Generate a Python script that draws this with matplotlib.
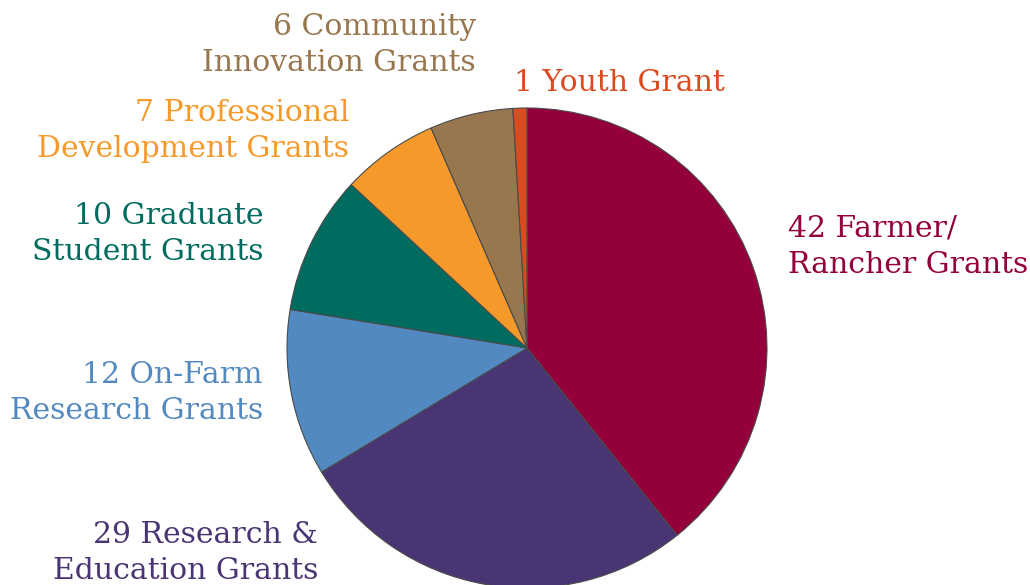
import matplotlib
matplotlib.use('Agg')
import matplotlib.pyplot as plt

W, H = 1030, 585

# grant counts, clockwise from the top
categories = ['Farmer/\nRancher Grants', 'Research &\nEducation Grants',
              'On-Farm\nResearch Grants', 'Graduate\nStudent Grants',
              'Professional\nDevelopment Grants', 'Community\nInnovation Grants',
              'Youth Grant']
counts = [42, 29, 12, 10, 7, 6, 1]
colors = ['#93003B', '#4A3574', '#5289C1', '#006B5F',
          '#F6992B', '#98774F', '#DA4B1F']

# label anchors in pixels (x, y of block centre, alignment)
label_pos = [(788, 247, 'left'), (318, 553, 'right'), (263, 393, 'right'),
             (263, 234, 'right'), (349, 131, 'right'), (476, 45, 'right'),
             (514, 83, 'left')]

fig = plt.figure(figsize=(W / 100, H / 100), dpi=100)
cx, cy, r = 527, 348, 240
ax = fig.add_axes([(cx - r) / W, (H - cy - r) / H, 2 * r / W, 2 * r / H])
ax.pie(counts, colors=colors, startangle=90, counterclock=False,
       wedgeprops=dict(edgecolor='#4a4a4a', linewidth=0.8))
ax.set_xlim(-1, 1)
ax.set_ylim(-1, 1)
ax.set_aspect('equal')
ax.axis('off')
for w in ax.patches:
    w.set_clip_on(False)

for n, cat, col, (x, y, ha) in zip(counts, categories, colors, label_pos):
    fig.text(x / W, 1 - y / H, f'{n} {cat}', color=col, ha=ha, va='center',
             multialignment=ha, fontsize=21.5, family='DejaVu Serif',
             linespacing=1.37)

fig.savefig('out.png', dpi=100)
